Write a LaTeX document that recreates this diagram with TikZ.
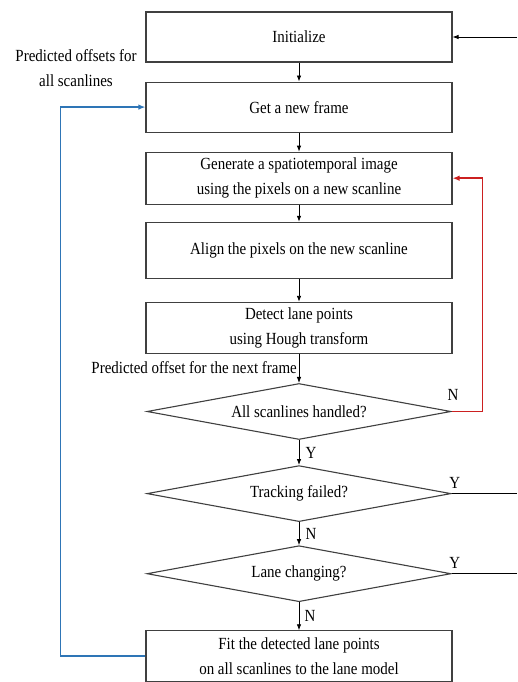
\documentclass[tikz,border=0pt]{standalone}
\usepackage{fontspec}
\setmainfont{Liberation Serif}[FakeStretch=0.88]
\usetikzlibrary{positioning,shapes.geometric,arrows.meta}

\definecolor{loopblue}{RGB}{46,117,182}
\definecolor{loopred}{RGB}{204,32,32}

\begin{document}
\begin{tikzpicture}[x=1pt,y=1pt,
	font=\fontsize{17}{25}\selectfont,
	stepbox/.style={draw=black!75,line width=1.1pt,minimum width=306pt,align=center,inner sep=2pt},
	testnode/.style={diamond,aspect=5.4,draw=black!75,line width=1.1pt,minimum width=304pt,minimum height=56pt,inner sep=0pt},
	flow/.style={-{Latex[length=6pt,width=4.5pt]},line width=0.8pt},
	loopline/.style={-{Latex[length=7pt,width=5.5pt]},line width=1.8pt}]
	\fill[white] (0,0) rectangle (517,-682);
	\useasboundingbox (0,0) rectangle (517,-682);

	\node[stepbox,minimum height=50pt]										(init)		at (299,-37)	{Initialize};
	\node[stepbox,minimum height=50pt,node distance=19pt,below=of init]		(frame)		{Get a new frame};
	\node[stepbox,minimum height=52pt,node distance=19pt,below=of frame]	(gen)		{Generate a spatiotemporal image\\using the pixels on a new scanline};
	\node[stepbox,minimum height=56pt,node distance=17pt,below=of gen]		(align)		{Align the pixels on the new scanline};
	\node[stepbox,minimum height=51pt,node distance=23pt,below=of align]	(detect)	{Detect lane points\\using Hough transform};
	\node[testnode,node distance=29pt,below=of detect]						(allscan)	{All scanlines handled?};
	\node[testnode,node distance=25pt,below=of allscan]						(trackfail)	{Tracking failed?};
	\node[testnode,node distance=23pt,below=of trackfail]					(lanechg)	{Lane changing?};
	\node[stepbox,minimum height=51pt,node distance=28pt,below=of lanechg]	(fit)		{Fit the detected lane points\\on all scanlines to the lane model};

	\node[align=center]						(offsall)	at (76,-68)		{Predicted offsets for\\all scanlines};
	\node[anchor=east,inner sep=1pt]		(offnext)	at (298,-368)	{Predicted offset for the next frame};

	\coordinate (initin)	at (517,-37);
	\coordinate (rightedge)	at (517,0);

	\draw[flow] (init) -- (frame);
	\draw[flow] (frame) -- (gen);
	\draw[flow] (gen) -- (align);
	\draw[flow] (align) -- (detect);
	\draw[flow] (detect) -- (allscan);
	\draw[flow] (allscan) -- node[right=3pt]{Y} (trackfail);
	\draw[flow] (trackfail) -- node[right=3pt]{N} (lanechg);
	\draw[flow] (lanechg) -- node[right=2pt]{N} (fit);
	\draw[flow] (initin) -- (init);

	\draw[line width=0.8pt] (trackfail.east) -- node[pos=0.05,above=1pt]{Y} (trackfail.east -| rightedge);
	\draw[line width=0.8pt] (lanechg.east) -- node[pos=0.05,above=1pt]{Y} (lanechg.east -| rightedge);

	\draw[loopline,loopred] (allscan.east) -- node[pos=0.05,above=7pt]{\color{black}N} ++(31,0) |- (gen.east);
	\draw[loopline,loopblue] (fit.west) -- ++(-85,0) |- (frame.west);
\end{tikzpicture}
\end{document}
